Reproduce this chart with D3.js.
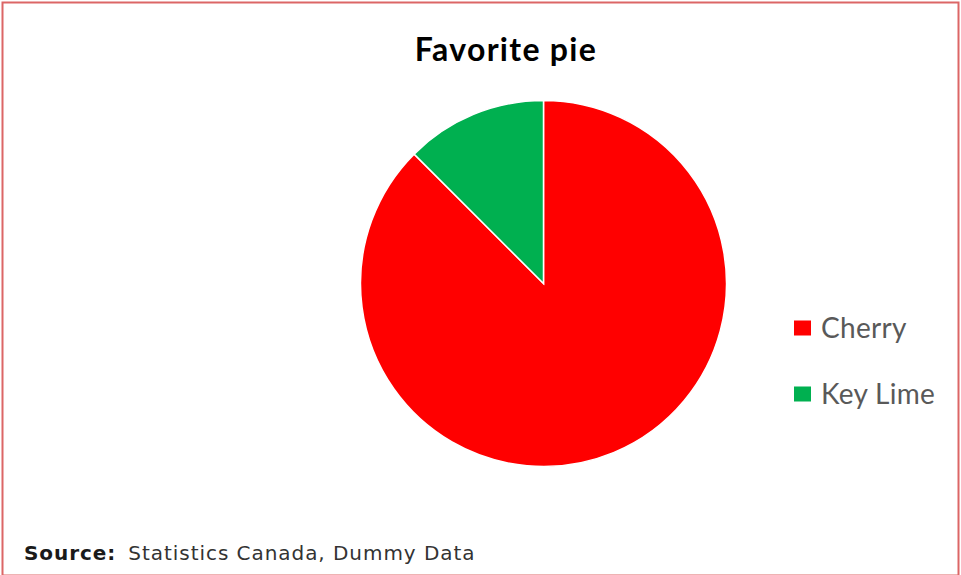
<!DOCTYPE html>
<html>
<head>
<meta charset="utf-8">
<script src="https://cdn.jsdelivr.net/npm/d3@7"></script>
<style>
  html, body { margin: 0; padding: 0; background: #fff; }
  svg { display: block; }
</style>
</head>
<body>
<svg id="chart" width="961" height="575"></svg>
<script>
// Favourite pie flavours (share of respondents, %)
const categories = ["Cherry", "Key Lime"];
const shares = [87.5, 12.5];
const colors = ["#ff0000", "#00b050"];
const title = "Favorite pie";
const sourceLabel = "Source:";
const sourceText = "Statistics Canada, Dummy Data";

const svg = d3.select("#chart");
const W = 961, H = 575;

// outer frame
svg.append("rect")
  .attr("x", 2.5).attr("y", 2.5)
  .attr("width", W - 5).attr("height", H - 2)
  .attr("fill", "#fff")
  .attr("stroke", "#dc6666")
  .attr("stroke-width", 2);

// title
svg.append("text")
  .attr("x", 506).attr("y", 61)
  .attr("text-anchor", "middle")
  .attr("font-family", "Lato, 'Open Sans', sans-serif")
  .attr("font-weight", 700)
  .attr("font-size", 32)
  .attr("letter-spacing", 1.3)
  .attr("fill", "#000")
  .text(title);

// pie
const cx = 543.5, cy = 283.5, r = 183;
const color = d3.scaleOrdinal().domain(categories).range(colors);
const pie = d3.pie().sort(null).value(d => d.value);
const arc = d3.arc().innerRadius(0).outerRadius(r);
const data = categories.map((c, i) => ({ name: c, value: shares[i] }));

svg.append("g")
  .attr("transform", `translate(${cx},${cy})`)
  .selectAll("path")
  .data(pie(data))
  .join("path")
  .attr("d", arc)
  .attr("fill", d => color(d.data.name))
  .attr("stroke", "#fff")
  .attr("stroke-width", 1.5);

// legend
const legend = svg.append("g")
  .attr("transform", "translate(794,0)");
const rowY = d3.scalePoint().domain(categories).range([328, 394]);
const item = legend.selectAll("g")
  .data(categories)
  .join("g")
  .attr("transform", d => `translate(0,${rowY(d)})`);
item.append("rect")
  .attr("x", 0).attr("y", -7.5)
  .attr("width", 17).attr("height", 15)
  .attr("fill", d => color(d));
item.append("text")
  .attr("x", 27).attr("y", 9.5)
  .attr("font-family", "Lato, 'Open Sans', sans-serif")
  .attr("font-size", 28)
  .attr("letter-spacing", 0.3)
  .attr("fill", "#595959")
  .text(d => d);

// source note
const src = svg.append("text")
  .attr("x", 24).attr("y", 560)
  .attr("font-family", "'DejaVu Sans', Verdana, sans-serif")
  .attr("font-size", 20)
  .attr("letter-spacing", 0.95)
  .attr("fill", "#1a1a1a");
src.append("tspan").attr("font-weight", 700).text(sourceLabel);
src.append("tspan").attr("dx", 12).attr("fill", "#333").text(sourceText);
</script>
</body>
</html>
